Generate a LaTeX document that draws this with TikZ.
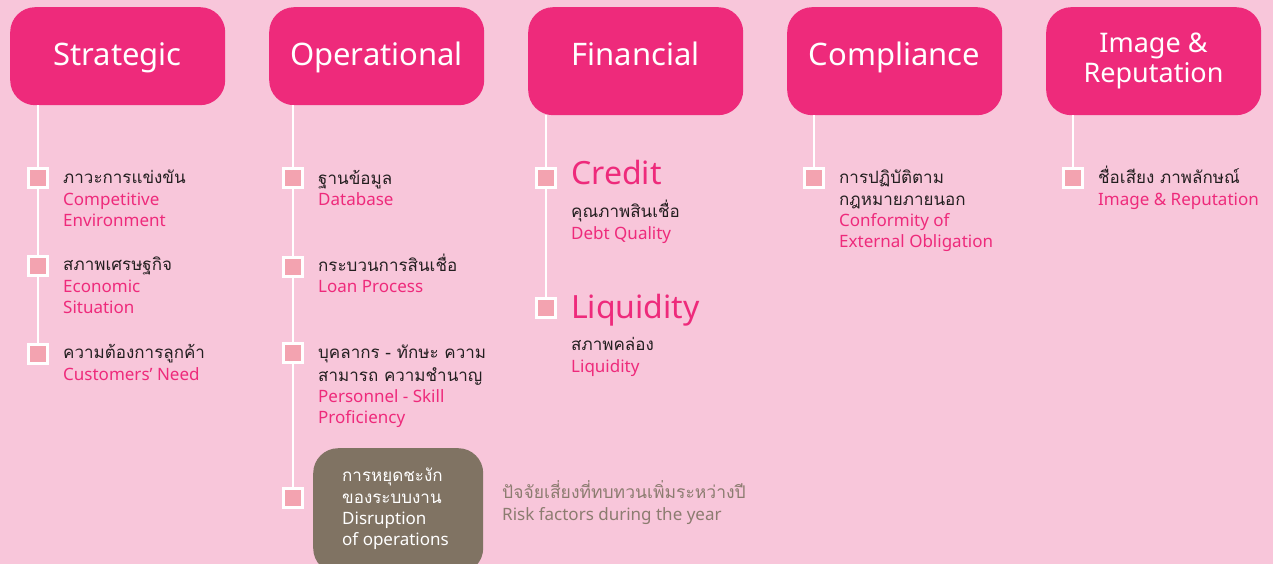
\documentclass[tikz,border=0pt]{standalone}
\usepackage{fontspec}
\setmainfont{Noto Sans}
\newfontfamily\thaifont[Script=Thai]{Loma}
\definecolor{bgpink}{HTML}{F8C6DA}
\definecolor{mag}{HTML}{EE2A7B}
\definecolor{sqfill}{HTML}{F3A3B0}
\definecolor{brownbox}{HTML}{807363}
\definecolor{graytxt}{HTML}{8C7C70}
\definecolor{darktxt}{HTML}{231F20}
\tikzset{
  hdr/.style={fill=mag, rounded corners=25pt, minimum width=215pt, inner sep=0pt, anchor=north west},
  htxt/.style={anchor=base, inner sep=0pt, text=white, font=\fontsize{31}{34}\selectfont},
  vline/.style={draw=white, line width=2.5pt},
  sq/.style={draw=white, line width=2.5pt, fill=sqfill, minimum size=19pt, inner sep=0pt},
  th/.style={anchor=base west, inner sep=0pt, text=darktxt, font=\thaifont\fontsize{17}{20}\selectfont},
  en/.style={anchor=base west, inner sep=0pt, text=mag, font=\fontsize{17}{20}\selectfont},
  big/.style={anchor=base west, inner sep=0pt, text=mag, font=\fontsize{32}{34}\selectfont},
}
\begin{document}
\begin{tikzpicture}[x=1pt,y=-1pt]
\useasboundingbox (0,0) rectangle (1273,564);
\fill[bgpink] (0,0) rectangle (1273,564);
\clip (0,0) rectangle (1273,564);
% headers
\node[hdr, minimum height=98pt] (h1) at (10,7) {};
\node[hdr, minimum height=98pt] (h2) at (269,7) {};
\node[hdr, minimum height=108pt] (h3) at (528,7) {};
\node[hdr, minimum height=108pt] (h4) at (787,7) {};
\node[hdr, minimum height=108pt] (h5) at (1046,7) {};
\node[htxt] (ht1) at (117.5,66) {Strategic};
\node[htxt] (ht2) at (376.5,66) {Operational};
\node[htxt] (ht3) at (635.5,66) {Financial};
\node[htxt] (ht4) at (894.5,66) {Compliance};
\node[htxt, font=\fontsize{27}{30}\selectfont] (ht5a) at (1153.5,53) {Image \&};
\node[htxt, font=\fontsize{27}{30}\selectfont] (ht5b) at (1153.5,83) {Reputation};
% bottom box
\node[fill=brownbox, rounded corners=25pt, minimum width=170pt, minimum height=125pt, anchor=north west, inner sep=0pt] (bx) at (313,448) {};
% bullet coordinates
\coordinate (c1a) at (38,178); \coordinate (c1b) at (38,266); \coordinate (c1c) at (38,354);
\coordinate (c2a) at (293,178); \coordinate (c2b) at (293,267); \coordinate (c2c) at (293,353); \coordinate (c2d) at (293,498);
\coordinate (c3a) at (546,178); \coordinate (c3b) at (546,308);
\coordinate (c4a) at (814,178);
\coordinate (c5a) at (1073,178);
% lines
\draw[vline] (c1a |- h1.south) -- (c1c);
\draw[vline] (c2a |- h2.south) -- (c2d);
\draw[vline] (c3a |- h3.south) -- (c3b);
\draw[vline] (c4a |- h4.south) -- (c4a);
\draw[vline] (c5a |- h5.south) -- (c5a);
% squares
\foreach \c in {1a,1b,1c,2a,2b,2c,2d,3a,3b,4a,5a}{\node[sq] (s\c) at (c\c) {};}
% Strategic texts
\node[th] (t1a) at (63,183) {ภาวะการแข่งขัน};
\node[en] (e1a1) at (63,205) {Competitive};
\node[en] (e1a2) at (63,226) {Environment};
\node[th] (t1b) at (63,270) {สภาพเศรษฐกิจ};
\node[en] (e1b1) at (63,292) {Economic};
\node[en] (e1b2) at (63,313) {Situation};
\node[th] (t1c) at (63,358) {ความต้องการลูกค้า};
\node[en] (e1c1) at (63,380) {Customers’ Need};
% Operational texts
\node[th] (t2a) at (318,184) {ฐานข้อมูล};
\node[en] (e2a1) at (318,205) {Database};
\node[th] (t2b) at (318,271) {กระบวนการสินเชื่อ};
\node[en] (e2b1) at (318,292) {Loan Process};
\node[th] (t2c1) at (318,358) {บุคลากร - ทักษะ ความ};
\node[th] (t2c2) at (318,381) {สามารถ ความชำนาญ};
\node[en] (e2c1) at (318,402) {Personnel - Skill};
\node[en] (e2c2) at (318,423) {Proficiency};
% box texts
\node[th, text=white] (t2d1) at (342,481) {การหยุดชะงัก};
\node[th, text=white] (t2d2) at (342,503) {ของระบบงาน};
\node[en, text=white] (e2d1) at (342,524) {Disruption};
\node[en, text=white] (e2d2) at (342,545) {of operations};
% legend
\node[th, text=graytxt, font=\thaifont\fontsize{17.5}{20}\selectfont] (lg1) at (502,498) {ปัจจัยเสี่ยงที่ทบทวนเพิ่มระหว่างปี};
\node[en, text=graytxt] (lg2) at (502,520) {Risk factors during the year};
% Financial
\node[big] (b3a) at (571,185) {Credit};
\node[th] (t3a) at (571,217) {คุณภาพสินเชื่อ};
\node[en] (e3a) at (571,239) {Debt Quality};
\node[big] (b3b) at (571,318) {Liquidity};
\node[th] (t3b) at (571,350) {สภาพคล่อง};
\node[en] (e3b) at (571,372) {Liquidity};
% Compliance
\node[th] (t4a1) at (839,183) {การปฏิบัติตาม};
\node[th] (t4a2) at (839,205) {กฎหมายภายนอก};
\node[en] (e4a1) at (839,226) {Conformity of};
\node[en] (e4a2) at (839,247) {External Obligation};
% Image
\node[th] (t5a) at (1098,183) {ชื่อเสียง ภาพลักษณ์};
\node[en] (e5a) at (1098,205) {Image \& Reputation};
\end{tikzpicture}
\end{document}
